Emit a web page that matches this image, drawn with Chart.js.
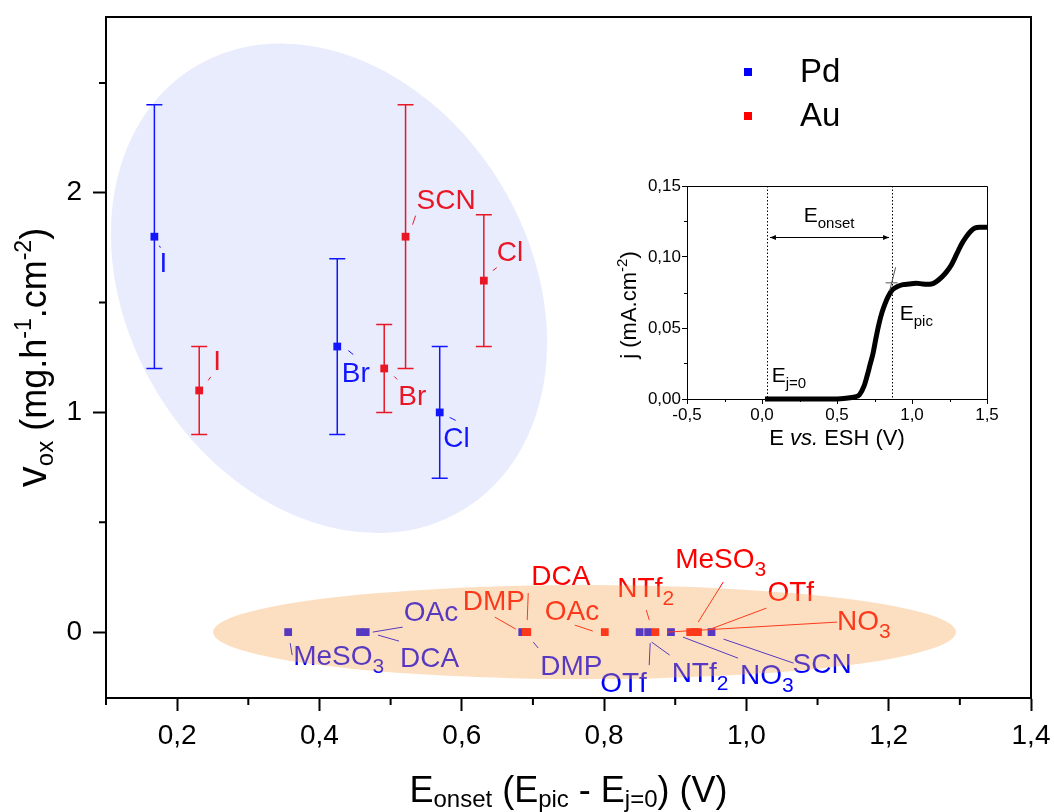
<!DOCTYPE html>
<html><head><meta charset="utf-8">
<script src="https://cdn.jsdelivr.net/npm/chart.js@4/dist/chart.umd.min.js"></script>
<style>
html,body{margin:0;padding:0;background:#fff;}
#wrap{position:relative;width:1054px;height:812px;background:#fff;overflow:hidden;}
#main{position:absolute;left:0;top:0;}
#inset{position:absolute;left:600px;top:160px;}
</style></head><body>
<div id="wrap"><canvas id="main" width="1054" height="812"></canvas><canvas id="inset" width="420" height="300"></canvas></div>
<script>
// ---------------- DATA ----------------
const pdNames = ['I','Br','Cl','MeSO3','DCA','OAc','DMP','NTf2','OTf','NO3','SCN'];
const pdX     = [0.168,0.425,0.569,0.356,0.457,0.465,0.685,0.850,0.862,0.894,0.951];
const pdY     = [1.8,1.3,1.0,0,0,0,0,0,0,0,0];
const pdErr   = [0.6,0.4,0.3,0,0,0,0,0,0,0,0];

const auNames = ['I','Br','SCN','Cl','DMP','DCA','OAc','NTf2','MeSO3','OTf','NO3'];
const auX     = [0.231,0.491,0.521,0.631,0.690,0.692,0.801,0.872,0.921,0.927,0.932];
const auY     = [1.1,1.2,1.8,1.6,0,0,0,0,0,0,0];
const auErr   = [0.2,0.2,0.6,0.3,0,0,0,0,0,0,0];

const xTicks = [0.2,0.4,0.6,0.8,1.0,1.2,1.4];
const xTickLabels = ['0,2','0,4','0,6','0,8','1,0','1,2','1,4'];
const yTicks = [0,1,2];
const yTickLabels = ['0','1','2'];
const xMinor = [0.1,0.3,0.5,0.7,0.9,1.1,1.3];
const yMinor = [0.5,1.5,2.5];

// inset curve
const insetE = [0.02,0.1,0.2,0.3,0.4,0.5,0.56,0.62,0.65,0.68,0.70,0.72,0.74,0.76,0.78,0.80,0.82,0.84,0.87,0.90,0.94,0.98,1.03,1.07,1.10,1.13,1.16,1.20,1.23,1.26,1.30,1.33,1.36,1.39,1.42,1.45,1.48,1.50];
const insetJ = [0,0,0,0,0,0,0.0005,0.0015,0.003,0.009,0.016,0.024,0.032,0.043,0.053,0.061,0.067,0.072,0.077,0.079,0.0805,0.081,0.0815,0.081,0.0808,0.081,0.0825,0.086,0.0895,0.094,0.1025,0.109,0.114,0.118,0.1205,0.121,0.121,0.121];
const insetXTicks = [-0.5,0,0.5,1.0,1.5];
const insetXTickLabels = ['-0,5','0,0','0,5','1,0','1,5'];
const insetYTicks = [0,0.05,0.10,0.15];
const insetYTickLabels = ['0,00','0,05','0,10','0,15'];
const insetXMinor = [-0.25,0.25,0.75,1.25];
const insetYMinor = [0.025,0.075,0.125];
const insetMarkers = {ej0:0.033, epic:0.867, arrowJ:0.1141};

// ---------------- LAYOUT / STYLE ----------------
const FONT = '"Liberation Sans", Arial, sans-serif';
Chart.defaults.font.family = FONT;
const BLUE = '#0000ff', RED = '#ff0000';

// label placement: pixel offsets from each mark (text left/baseline, leader line)
const pdLabelPos = [
  {dx:5,dy:35,l:[5,9,6,11]},
  {dx:4.5,dy:35,l:[11,4,16,8]},
  {dx:3.5,dy:35,l:[10,5,16,8]},
  {dx:5,dy:33,l:[2,11,4,23]},
  {dx:40,dy:35,l:[18,3,39,9]},
  {dx:38,dy:-11,l:[7,0,37,-5]},
  {dx:18,dy:43,l:[11,10,16,16]},
  {dx:32,dy:50,l:[12,10,30,23]},
  {dx:-48,dy:60,l:[2,11,1,33]},
  {dx:69,dy:52,l:[12,5,67,26]},
  {dx:81,dy:41,l:[12,7,82,31]}
];
const auLabelPos = [
  {dx:14,dy:-20,l:[9,-10,11.5,-13.6]},
  {dx:14,dy:37,l:[10,8,13,11]},
  {dx:11,dy:-28,l:[7,-12,10,-21]},
  {dx:13,dy:-20,l:[9,-10,13,-13]},
  {dx:-63,dy:-22,l:[-31,-15,-10,-3]},
  {dx:4,dy:-47,l:[1,-39,0,-12]},
  {dx:-60,dy:-12,l:[-30,-7,-12,-1]},
  {dx:-38,dy:-35,l:[-9,-22,-6,-12]},
  {dx:-15,dy:-64,l:[33,-50,8,-10]},
  {dx:73,dy:-31,l:[72,-24,16,-3]},
  {dx:139,dy:-2,l:[139,-10,-31,0]}
];
const blueEllipse = {cx:0.4134, cy:1.565, a:259, b:201, rot:58.8, color:'rgba(120,135,235,0.16)'};
const orangeEllipse = {cx:0.7725, cy:0.0, rx:0.522, ry:0.214, color:'rgba(245,163,75,0.35)'};

function partsWidth(ctx, parts){
  let w=0;
  parts.forEach(p=>{ctx.font=(p.style||'')+' '+p.s+'px '+FONT; p.w=ctx.measureText(p.t).width; w+=p.w;});
  return w;
}
function drawParts(ctx, parts, x, y, align){
  const w = partsWidth(ctx, parts);
  let cx = align==='center' ? x-w/2 : x;
  ctx.textAlign='left'; ctx.textBaseline='alphabetic';
  parts.forEach(p=>{ctx.font=(p.style||'')+' '+p.s+'px '+FONT; ctx.fillText(p.t, cx, y+(p.dy||0)); cx+=p.w;});
}
function labelParts(name, size){
  const m = name.match(/^(.*?)(\d)$/);
  if (m && m[1].length>1) return [{t:m[1],s:size},{t:m[2],s:Math.round(size*0.75),dy:Math.round(size*0.3)}];
  return [{t:name,s:size}];
}
function zeroPad(s){ s.paddingTop=0; s.paddingBottom=0; s.paddingLeft=0; s.paddingRight=0; }

const mainPlugin = {
  id:'mainDeco',
  beforeDatasetsDraw(chart){
    const {ctx, scales:{x,y}} = chart;
    const series = [[pdX,pdY,pdErr,BLUE],[auX,auY,auErr,RED]];
    ctx.save();
    ctx.lineWidth = 1.5;
    series.forEach(([xs,ys,es,col])=>{
      ctx.strokeStyle = col;
      xs.forEach((xv,i)=>{
        if(!es[i]) return;
        const px = x.getPixelForValue(xv);
        const p1 = y.getPixelForValue(ys[i]-es[i]), p2 = y.getPixelForValue(ys[i]+es[i]);
        ctx.beginPath();
        ctx.moveTo(px,p1); ctx.lineTo(px,p2);
        ctx.moveTo(px-8,p1); ctx.lineTo(px+8,p1);
        ctx.moveTo(px-8,p2); ctx.lineTo(px+8,p2);
        ctx.stroke();
      });
    });
    ctx.restore();
  },
  afterDatasetsDraw(chart){
    const {ctx, scales:{x,y}} = chart;
    ctx.save();
    const groups = [[pdNames,pdX,pdY,pdLabelPos,BLUE],[auNames,auX,auY,auLabelPos,RED]];
    groups.forEach(([names,xs,ys,pos,col])=>{
      names.forEach((n,i)=>{
        const px = x.getPixelForValue(xs[i]), py = y.getPixelForValue(ys[i]);
        const p = pos[i];
        ctx.strokeStyle = col; ctx.lineWidth = 1;
        ctx.beginPath(); ctx.moveTo(px+p.l[0],py+p.l[1]); ctx.lineTo(px+p.l[2],py+p.l[3]); ctx.stroke();
        ctx.fillStyle = col;
        drawParts(ctx, labelParts(n,28), px+p.dx, py+p.dy, 'left');
      });
    });
    // ellipses (translucent overlays)
    ctx.fillStyle = blueEllipse.color;
    ctx.beginPath();
    ctx.ellipse(x.getPixelForValue(blueEllipse.cx), y.getPixelForValue(blueEllipse.cy), blueEllipse.a, blueEllipse.b, blueEllipse.rot*Math.PI/180, 0, Math.PI*2);
    ctx.fill();
    ctx.fillStyle = orangeEllipse.color;
    const ocx = x.getPixelForValue(orangeEllipse.cx), ocy = y.getPixelForValue(orangeEllipse.cy);
    const orx = Math.abs(x.getPixelForValue(orangeEllipse.cx+orangeEllipse.rx)-ocx);
    const ory = Math.abs(y.getPixelForValue(orangeEllipse.cy+orangeEllipse.ry)-ocy);
    ctx.beginPath(); ctx.ellipse(ocx,ocy,orx,ory,0,0,Math.PI*2); ctx.fill();
    ctx.restore();
  },
  afterDraw(chart){
    const {ctx, chartArea:a, scales:{x,y}} = chart;
    ctx.save();
    ctx.strokeStyle='#000'; ctx.lineWidth=2;
    ctx.beginPath();
    ctx.moveTo(a.left-1,a.top); ctx.lineTo(a.right,a.top); ctx.lineTo(a.right,a.bottom+1);
    ctx.stroke();
    // minor ticks
    ctx.beginPath();
    xMinor.forEach(v=>{const px=x.getPixelForValue(v); ctx.moveTo(px,a.bottom); ctx.lineTo(px,a.bottom+7);});
    yMinor.forEach(v=>{const py=y.getPixelForValue(v); ctx.moveTo(a.left,py); ctx.lineTo(a.left-7,py);});
    ctx.stroke();
    // axis titles
    ctx.fillStyle='#000';
    drawParts(ctx,[{t:'E',s:36},{t:'onset',s:24,dy:5},{t:' (E',s:36},{t:'pic',s:24,dy:5},{t:' - E',s:36},{t:'j=0',s:24,dy:5},{t:') (V)',s:36}], (a.left+a.right)/2, 802, 'center');
    ctx.translate(46,(a.top+a.bottom)/2);
    ctx.rotate(-Math.PI/2);
    drawParts(ctx,[{t:'v',s:42},{t:'ox',s:24,dy:7},{t:' (mg.h',s:36},{t:'-1',s:23,dy:-15},{t:'.cm',s:36},{t:'-2',s:23,dy:-15},{t:')',s:36}],0,0,'center');
    ctx.restore();
    // legend
    ctx.save();
    const items = [['Pd',BLUE],['Au',RED]];
    items.forEach(([t,c],i)=>{
      const ly = 72 + i*44;
      ctx.fillStyle=c; ctx.fillRect(744,ly-4,8,8);
      ctx.fillStyle='#000'; ctx.font='33px '+FONT; ctx.textAlign='left'; ctx.textBaseline='middle';
      ctx.fillText(t,800,ly+1);
    });
    ctx.restore();
  }
};

new Chart(document.getElementById('main'), {
  type:'scatter',
  data:{datasets:[
    {label:'Pd', data:pdX.map((v,i)=>({x:v,y:pdY[i]})), backgroundColor:BLUE, pointStyle:'rect', pointRadius:5.5, pointBorderWidth:0, order:2},
    {label:'Au', data:auX.map((v,i)=>({x:v,y:auY[i]})), backgroundColor:RED, pointStyle:'rect', pointRadius:5.5, pointBorderWidth:0, order:1}
  ]},
  options:{
    responsive:false, animation:false, events:[],
    layout:{padding:{top:17,right:23,left:0,bottom:0}},
    plugins:{legend:{display:false},tooltip:{enabled:false}},
    scales:{
      x:{type:'linear',min:0.1,max:1.4,
         afterBuildTicks:s=>{s.ticks=xTicks.map(v=>({value:v}));},
         ticks:{callback:(v,i)=>xTickLabels[i],font:{size:28,family:FONT},color:'#000',padding:8,maxRotation:0,autoSkip:false},
         grid:{drawOnChartArea:false,drawTicks:true,tickLength:13,tickWidth:2,tickColor:'#000'},
         border:{display:true,color:'#000',width:2},
         afterFit:s=>{s.height=114; zeroPad(s);}},
      y:{type:'linear',min:-0.3,max:2.8,
         afterBuildTicks:s=>{s.ticks=yTicks.map(v=>({value:v}));},
         ticks:{callback:(v,i)=>yTickLabels[i],font:{size:28,family:FONT},color:'#000',padding:11,autoSkip:false},
         grid:{drawOnChartArea:false,drawTicks:true,tickLength:13,tickWidth:2,tickColor:'#000'},
         border:{display:true,color:'#000',width:2},
         afterFit:s=>{s.width=106; zeroPad(s);}}
    }
  },
  plugins:[mainPlugin]
});

// ---------------- INSET ----------------
const insetPlugin = {
  id:'insetDeco',
  afterDraw(chart){
    const {ctx, chartArea:a, scales:{x,y}} = chart;
    ctx.save();
    ctx.strokeStyle='#000'; ctx.lineWidth=1;
    ctx.beginPath();
    ctx.moveTo(a.left,a.top+0.5); ctx.lineTo(a.right+0.5,a.top+0.5); ctx.lineTo(a.right+0.5,a.bottom);
    insetXMinor.forEach(v=>{const px=Math.round(x.getPixelForValue(v))+0.5; ctx.moveTo(px,a.bottom); ctx.lineTo(px,a.bottom+3);});
    insetYMinor.forEach(v=>{const py=Math.round(y.getPixelForValue(v))+0.5; ctx.moveTo(a.left,py); ctx.lineTo(a.left-3,py);});
    ctx.stroke();
    // dotted markers
    ctx.setLineDash([1.5,2]);
    ctx.beginPath();
    [insetMarkers.ej0, insetMarkers.epic].forEach(v=>{const px=Math.round(x.getPixelForValue(v))+0.5; ctx.moveTo(px,a.top); ctx.lineTo(px,a.bottom);});
    ctx.stroke();
    ctx.setLineDash([]);
    // arrow
    const ay = Math.round(y.getPixelForValue(insetMarkers.arrowJ))+0.5;
    const ax1 = x.getPixelForValue(insetMarkers.ej0)+3, ax2 = x.getPixelForValue(insetMarkers.epic)-3;
    ctx.beginPath(); ctx.moveTo(ax1,ay); ctx.lineTo(ax2,ay); ctx.stroke();
    ctx.fillStyle='#000';
    ctx.beginPath(); ctx.moveTo(ax1,ay); ctx.lineTo(ax1+6,ay-2.5); ctx.lineTo(ax1+6,ay+2.5); ctx.closePath(); ctx.fill();
    ctx.beginPath(); ctx.moveTo(ax2,ay); ctx.lineTo(ax2-6,ay-2.5); ctx.lineTo(ax2-6,ay+2.5); ctx.closePath(); ctx.fill();
    // tangents
    ctx.strokeStyle='#555';
    ctx.beginPath();
    ctx.moveTo(x.getPixelForValue(0.824),y.getPixelForValue(0.0818)); ctx.lineTo(x.getPixelForValue(0.904),y.getPixelForValue(0.0818));
    ctx.moveTo(x.getPixelForValue(0.851),y.getPixelForValue(0.0762)); ctx.lineTo(x.getPixelForValue(0.891),y.getPixelForValue(0.0928));
    ctx.stroke();
    // annotations
    ctx.fillStyle='#000';
    drawParts(ctx,[{t:'E',s:21},{t:'onset',s:15,dy:6}], x.getPixelForValue(0.278), y.getPixelForValue(0.1247), 'left');
    drawParts(ctx,[{t:'E',s:21},{t:'pic',s:15,dy:6}], x.getPixelForValue(0.918), y.getPixelForValue(0.0556), 'left');
    drawParts(ctx,[{t:'E',s:21},{t:'j=0',s:15,dy:6}], x.getPixelForValue(0.065), y.getPixelForValue(0.0122), 'left');
    // axis titles
    drawParts(ctx,[{t:'E ',s:22},{t:'vs.',s:22,style:'italic'},{t:' ESH (V)',s:22}], (a.left+a.right)/2, 285, 'center');
    ctx.translate(36,145); ctx.rotate(-Math.PI/2);
    drawParts(ctx,[{t:'j (mA.cm',s:22},{t:'-2',s:15,dy:-9},{t:')',s:22}],0,0,'center');
    ctx.restore();
  }
};

new Chart(document.getElementById('inset'), {
  type:'scatter',
  data:{datasets:[{data:insetE.map((v,i)=>({x:v,y:insetJ[i]})), showLine:true, borderColor:'#000', borderWidth:5, pointRadius:0, cubicInterpolationMode:'monotone', fill:false, clip:false}]},
  options:{
    responsive:false, animation:false, events:[],
    layout:{padding:{top:26,right:33,left:0,bottom:0}},
    plugins:{legend:{display:false},tooltip:{enabled:false}},
    scales:{
      x:{type:'linear',min:-0.5,max:1.5,
         afterBuildTicks:s=>{s.ticks=insetXTicks.map(v=>({value:v}));},
         ticks:{callback:(v,i)=>insetXTickLabels[i],font:{size:17,family:FONT},color:'#000',padding:1,maxRotation:0,autoSkip:false},
         grid:{drawOnChartArea:false,drawTicks:true,tickLength:5,tickWidth:1,tickColor:'#000'},
         border:{display:true,color:'#000',width:1},
         afterFit:s=>{s.height=61; zeroPad(s);}},
      y:{type:'linear',min:0,max:0.15,
         afterBuildTicks:s=>{s.ticks=insetYTicks.map(v=>({value:v}));},
         ticks:{callback:(v,i)=>insetYTickLabels[i],font:{size:17,family:FONT},color:'#000',padding:1,autoSkip:false},
         grid:{drawOnChartArea:false,drawTicks:true,tickLength:5,tickWidth:1,tickColor:'#000'},
         border:{display:true,color:'#000',width:1},
         afterFit:s=>{s.width=87; zeroPad(s);}}
    }
  },
  plugins:[insetPlugin]
});
</script>
</body></html>
